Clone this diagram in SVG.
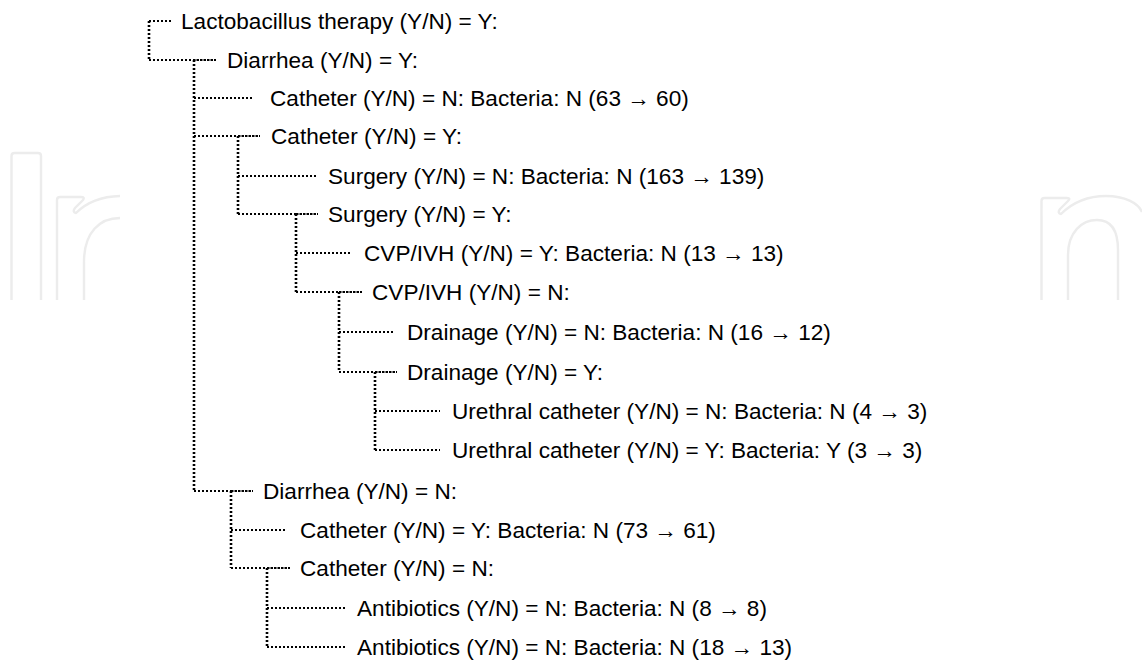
<svg xmlns="http://www.w3.org/2000/svg" width="1142" height="661" viewBox="0 0 1142 661">
<style>
.wm{fill:none;stroke:#ececec;stroke-width:2.4;stroke-linejoin:round}
.h{fill:none;stroke:#000;stroke-width:2;stroke-dasharray:2 2}
.v{fill:none;stroke:#000;stroke-width:2.6;stroke-dasharray:2 2}
.d{fill:none;stroke:#000;stroke-width:2;stroke-dasharray:2.5 1}
text{font-family:"Liberation Sans",Arial,sans-serif;font-size:22.6px;fill:#000}
</style>
<rect width="1142" height="661" fill="#fff"/>
<g id="watermark">
<path class="wm" d="M11.5 300 V156 Q11.5 153 14.5 153 H38 Q41 153 41 156 V300"/>
<path class="wm" d="M57 300 V200 Q57 197 60 197 H81 Q85 197 83 200 L75 208 Q72 212 76 213 C86 203 100 196.5 120 196"/>
<path class="wm" d="M120 218 C100 218 84 232 84 262 V300"/>
<path class="wm" d="M1041.5 300 V201 Q1041.5 198 1044.5 198 H1067 Q1071 198 1068 201 L1060 209 Q1057 213 1061 214 C1072 203 1088 196 1106 196 C1125 196 1138 203 1142 212"/>
<path class="wm" d="M1068 300 V255 C1068 232 1082 220 1097 220 C1112 220 1118 232 1118 250 V300"/>
</g>
<g id="connectors">
<path class="v" d="M149 21 V60"/>
<path class="h" d="M149 21 H172"/>
<path class="h" d="M149 60 H193"/><path class="d" d="M193 60 H216"/>
<path class="v" d="M194 60 V491"/>
<path class="h" d="M194 98 H253"/>
<path class="h" d="M194 136 H238"/><path class="d" d="M238 136 H260"/>
<path class="v" d="M238 136 V214"/>
<path class="h" d="M238 176 H318"/>
<path class="h" d="M238 214 H296"/><path class="d" d="M296 214 H318"/>
<path class="v" d="M296 214 V292"/>
<path class="h" d="M296 253 H352"/>
<path class="h" d="M296 292 H339"/><path class="d" d="M339 292 H362"/>
<path class="v" d="M339 292 V372"/>
<path class="h" d="M339 332 H395"/>
<path class="h" d="M339 372 H375"/><path class="d" d="M375 372 H397"/>
<path class="v" d="M375 372 V450"/>
<path class="h" d="M375 411 H440"/>
<path class="h" d="M375 450 H440"/>
<path class="h" d="M194 491 H231"/><path class="d" d="M231 491 H253"/>
<path class="v" d="M231 491 V568"/>
<path class="h" d="M231 530 H287"/>
<path class="h" d="M231 568 H267"/><path class="d" d="M267 568 H290"/>
<path class="v" d="M267 568 V647"/>
<path class="h" d="M267 608 H345"/>
<path class="h" d="M267 647 H345"/>
</g>
<g id="n1"><text x="181" y="29">Lactobacillus therapy (Y/N) = Y:</text></g>
<g id="n2"><text x="227" y="68">Diarrhea (Y/N) = Y:</text></g>
<g id="n3"><text x="270" y="106">Catheter (Y/N) = N: Bacteria: N (63 → 60)</text></g>
<g id="n4"><text x="271" y="144">Catheter (Y/N) = Y:</text></g>
<g id="n5"><text x="328" y="184">Surgery (Y/N) = N: Bacteria: N (163 → 139)</text></g>
<g id="n6"><text x="328" y="222">Surgery (Y/N) = Y:</text></g>
<g id="n7"><text x="364" y="261">CVP/IVH (Y/N) = Y: Bacteria: N (13 → 13)</text></g>
<g id="n8"><text x="372" y="300">CVP/IVH (Y/N) = N:</text></g>
<g id="n9"><text x="407" y="340">Drainage (Y/N) = N: Bacteria: N (16 → 12)</text></g>
<g id="n10"><text x="407" y="380">Drainage (Y/N) = Y:</text></g>
<g id="n11"><text x="452" y="419">Urethral catheter (Y/N) = N: Bacteria: N (4 → 3)</text></g>
<g id="n12"><text x="452" y="458">Urethral catheter (Y/N) = Y: Bacteria: Y (3 → 3)</text></g>
<g id="n13"><text x="263" y="499">Diarrhea (Y/N) = N:</text></g>
<g id="n14"><text x="300" y="538">Catheter (Y/N) = Y: Bacteria: N (73 → 61)</text></g>
<g id="n15"><text x="300" y="576">Catheter (Y/N) = N:</text></g>
<g id="n16"><text x="357" y="616">Antibiotics (Y/N) = N: Bacteria: N (8 → 8)</text></g>
<g id="n17"><text x="357" y="655">Antibiotics (Y/N) = N: Bacteria: N (18 → 13)</text></g>
</svg>
